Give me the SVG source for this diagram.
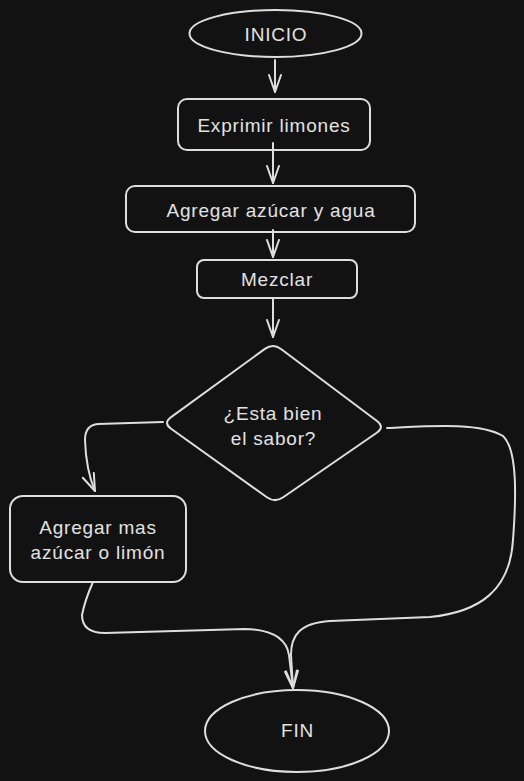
<svg xmlns="http://www.w3.org/2000/svg" width="524" height="781" viewBox="0 0 524 781">
<defs>
<style>
.s{fill:none;stroke:#dedede;stroke-width:2;stroke-linecap:round;stroke-linejoin:round}
.t{fill:#e2e2e2;font-family:"Liberation Sans","DejaVu Sans",sans-serif;font-size:19px;letter-spacing:0.8px;text-anchor:middle;dominant-baseline:central}
</style>
<marker id="ah" viewBox="-20 -10 22 20" refX="0" refY="0" markerWidth="22" markerHeight="20" markerUnits="userSpaceOnUse" orient="auto">
<path d="M-17,-6 L0,0 L-17,6" fill="none" stroke="#dedede" stroke-width="2" stroke-linecap="round" stroke-linejoin="round"/>
</marker>
</defs>
<rect width="524" height="781" fill="#121212"/>
<g id="connectors">
<path class="s" marker-end="url(#ah)" d="M275,60 L275,92"/>
<path class="s" marker-end="url(#ah)" d="M273,143 L273,183"/>
<path class="s" marker-end="url(#ah)" d="M273,230 L273,257"/>
<path class="s" marker-end="url(#ah)" d="M273,298 L273,337"/>
<path class="s" marker-end="url(#ah)" d="M163,422 L98,424 Q85,425 85,440 Q86,470 95,491"/>
<path class="s" marker-end="url(#ah)" d="M387,428 C430,426 480,422 503,436 C518,450 516,500 513,540 C510,590 480,612 430,617 L330,621 C300,623 291,635 291,655 L293,688"/>
<path class="s" marker-end="url(#ah)" d="M93,582 Q85,600 82,615 Q82,633 105,633 L245,629 Q285,630 289,655 L293,688"/>
</g>
<g id="inicio">
<ellipse class="s" cx="275.5" cy="33.5" rx="86" ry="23.5"/>
<text class="t" x="276" y="34">INICIO</text>
</g>
<g id="exprimir">
<rect class="s" x="178" y="99" width="192" height="51" rx="9"/>
<text class="t" x="274" y="125">Exprimir limones</text>
</g>
<g id="agregar">
<rect class="s" x="126" y="186" width="289" height="46" rx="9"/>
<text class="t" x="271" y="210">Agregar azúcar y agua</text>
</g>
<g id="mezclar">
<rect class="s" x="197" y="260" width="160" height="38" rx="7"/>
<text class="t" x="277" y="279">Mezclar</text>
</g>
<g id="decision">
<path class="s" d="M264.9,348.9 Q273,343 281,349 L377,421 Q385,427 376.8,432.7 L283.2,497.3 Q275,503 266.9,497.2 L171.1,428.8 Q163,423 171.1,417.1 Z"/>
<text class="t" x="273" y="413">¿Esta bien</text>
<text class="t" x="273.5" y="438">el sabor?</text>
</g>
<g id="ajustar">
<rect class="s" x="10" y="496" width="176" height="86" rx="13"/>
<text class="t" x="98" y="527">Agregar mas</text>
<text class="t" x="98" y="552">azúcar o limón</text>
</g>
<g id="fin">
<ellipse class="s" cx="297" cy="731" rx="92" ry="41"/>
<text class="t" x="297.5" y="730">FIN</text>
</g>
</svg>
